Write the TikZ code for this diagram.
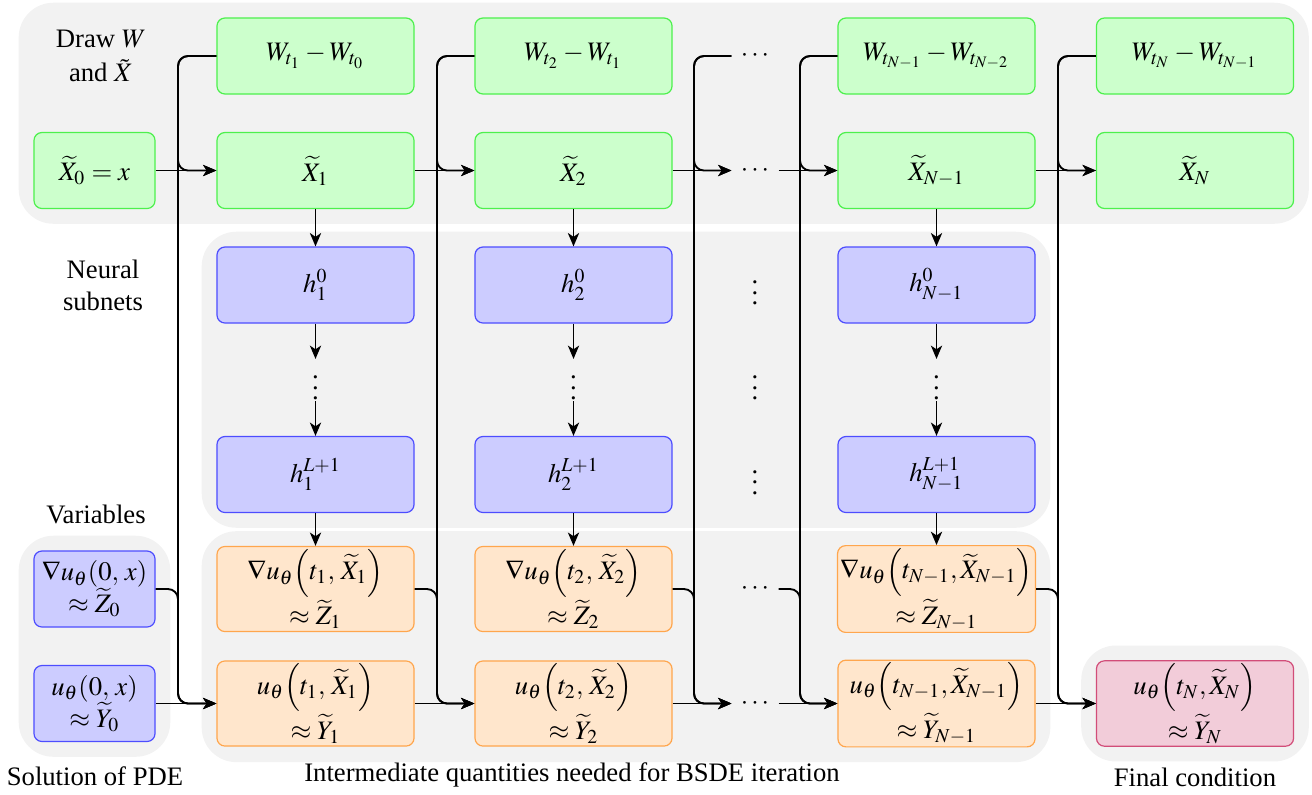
\documentclass[tikz,border=0pt]{standalone}
\usepackage{mathptmx}
\usepackage{fontspec}
\setmainfont{Liberation Serif}
\usetikzlibrary{arrows.meta,fit,backgrounds}
\definecolor{gfill}{RGB}{204,255,204}
\definecolor{gdraw}{RGB}{77,240,77}
\definecolor{bfill}{RGB}{204,204,255}
\definecolor{bdraw}{RGB}{77,77,255}
\definecolor{ofill}{RGB}{255,230,204}
\definecolor{odraw}{RGB}{255,166,77}
\definecolor{pfill}{RGB}{242,204,217}
\definecolor{pdraw}{RGB}{210,77,121}
\definecolor{bggray}{RGB}{242,242,242}
\newcommand{\lp}{\mathopen{}\left(}
\newcommand{\rp}{\right)}
\tikzset{
  box/.style={rounded corners=3pt, minimum width=73.9pt, minimum height=28.5pt,
    align=center, inner sep=1pt, line width=0.45pt},
  sbox/.style={box, minimum width=45.4pt},
  gbox/.style={box, fill=gfill, draw=gdraw},
  bbox/.style={box, fill=bfill, draw=bdraw},
  obox/.style={box, fill=ofill, draw=odraw},
  pbox/.style={box, fill=pfill, draw=pdraw},
  group/.style={fill=bggray, rounded corners=13pt, inner sep=5.5pt},
  conn/.style={line width=0.7pt, rounded corners=3.75pt},
  arr/.style={conn, -{Stealth[length=5pt,width=4.2pt,inset=1.4pt]}},
  hdots/.style={inner sep=0pt, minimum width=17.25pt, minimum height=10pt},
  vdotsnode/.style={inner sep=0pt, minimum height=15.4pt, minimum width=6pt},
  lbl/.style={align=center, inner sep=0pt}
}
\begin{document}
\begin{tikzpicture}[x=0.375pt,y=-0.375pt]
\useasboundingbox (0,0) rectangle (1312,794);

% top row: W increments
\node[gbox] (W1)  at (315.5,56) {$W_{t_1} - W_{t_0}$};
\node[gbox] (W2)  at (573.5,56) {$W_{t_2} - W_{t_1}$};
\node[hdots] (Wd) at (755,56) {$\cdots$};
\node[gbox] (Wn1) at (936.5,56) {$W_{t_{N-1}} - W_{t_{N-2}}$};
\node[gbox] (Wn)  at (1195,56) {$W_{t_N} - W_{t_{N-1}}$};

% X row
\node[gbox,sbox] (X0) at (94.5,170.5) {$\widetilde{X}_0 = x$};
\node[gbox] (X1)  at (315.5,170.5) {$\widetilde{X}_1$};
\node[gbox] (X2)  at (573.5,170.5) {$\widetilde{X}_2$};
\node[hdots] (Xd) at (755,170.5) {$\cdots$};
\node[gbox] (Xn1) at (936.5,170.5) {$\widetilde{X}_{N-1}$};
\node[gbox] (Xn)  at (1195,170.5) {$\widetilde{X}_N$};

% neural subnets
\node[bbox] (h01) at (315.5,285) {$h_1^0$};
\node[bbox] (h02) at (573.5,285) {$h_2^0$};
\node[bbox] (h0n) at (936.5,285) {$h_{N-1}^0$};
\node[vdotsnode] (v1) at (315.5,380) {$\vdots$};
\node[vdotsnode] (v2) at (573.5,380) {$\vdots$};
\node[vdotsnode] (vn) at (936.5,380) {$\vdots$};
\node[bbox] (hL1) at (315.5,474.5) {$h_1^{L+1}$};
\node[bbox] (hL2) at (573.5,474.5) {$h_2^{L+1}$};
\node[bbox] (hLn) at (936.5,474.5) {$h_{N-1}^{L+1}$};
\node[vdotsnode] (md1) at (755,285) {$\vdots$};
\node[vdotsnode] (md2) at (755,380) {$\vdots$};
\node[vdotsnode] (md3) at (755,474.5) {$\vdots$};

% Z row
\node[bbox,sbox] (Z0) at (94.5,589) {$\nabla u_\theta(0,\,x)$\\$\approx \widetilde{Z}_0$};
\node[obox] (Z1)  at (315.5,589) {$\nabla u_\theta\lp t_1,\,\widetilde{X}_1\rp$\\$\approx \widetilde{Z}_1$};
\node[obox] (Z2)  at (573.5,589) {$\nabla u_\theta\lp t_2,\,\widetilde{X}_2\rp$\\$\approx \widetilde{Z}_2$};
\node[hdots] (Zd) at (755,589) {$\cdots$};
\node[obox] (Zn1) at (936.5,589) {$\nabla u_\theta\lp t_{N-1},\widetilde{X}_{N-1}\rp$\\$\approx \widetilde{Z}_{N-1}$};

% Y row
\node[bbox,sbox] (Y0) at (94.5,703.5) {$u_\theta(0,\,x)$\\$\approx \widetilde{Y}_0$};
\node[obox] (Y1)  at (315.5,703.5) {$u_\theta\lp t_1,\,\widetilde{X}_1\rp$\\$\approx \widetilde{Y}_1$};
\node[obox] (Y2)  at (573.5,703.5) {$u_\theta\lp t_2,\,\widetilde{X}_2\rp$\\$\approx \widetilde{Y}_2$};
\node[hdots] (Yd) at (755,703.5) {$\cdots$};
\node[obox] (Yn1) at (936.5,703.5) {$u_\theta\lp t_{N-1},\widetilde{X}_{N-1}\rp$\\$\approx \widetilde{Y}_{N-1}$};
\node[pbox] (Yn)  at (1195,703.5) {$u_\theta\lp t_N,\widetilde{X}_N\rp$\\$\approx \widetilde{Y}_N$};

% labels
\node[lbl] (lDraw) at (101,56) {Draw $W$\\[1pt]and $\tilde{X}$};
\node[lbl] (lNeur) at (103,285) {Neural\\subnets};
\node[lbl] (lVar)  at (96,514) {Variables};
\node[lbl] (lSol)  at (95,776) {Solution of PDE};
\node[lbl] (lInt)  at (572,775) {Intermediate quantities needed for BSDE iteration};
\node[lbl] (lFin)  at (1195,777) {Final condition};

% background groups
\begin{scope}[on background layer]
  \node[group, fit=(X0)(W1)(Wn)(Xn)] (gTop) {};
  \node[group, fit=(h01)(hLn)] (gNeur) {};
  \node[group, fit=(Z0)(Y0)] (gVar) {};
  \node[group, fit=(Z1)(Yn1)] (gInt) {};
  \node[group, fit=(Yn)] (gFin) {};
\end{scope}

% gap coordinates
\coordinate (g1) at (178,0);
\coordinate (g2) at (437,0);
\coordinate (g3) at (694,0);
\coordinate (g4) at (800,0);
\coordinate (g5) at (1058,0);

% horizontal / gap connectors
\foreach \W/\Xs/\Zs/\Ys/\Xt/\Yt/\g in {W1/X0/Z0/Y0/X1/Y1/g1, W2/X1/Z1/Y1/X2/Y2/g2,
    Wd/X2/Z2/Y2/Xd/Yd/g3, Wn1/Xd/Zd/Yd/Xn1/Yn1/g4, Wn/Xn1/Zn1/Yn1/Xn/Yn/g5}{
  \draw[arr] (\W.west) -- (\W.west -| \g) -- (\Xt.west -| \g) -- (\Xt.west);
  \draw[arr] (\W.west) -- (\W.west -| \g) -- (\Yt.west -| \g) -- (\Yt.west);
  \draw[arr] (\Xs.east) -- (\Xt.west);
  \draw[arr] (\Zs.east) -- (\Zs.east -| \g) -- (\Yt.west -| \g) -- (\Yt.west);
  \draw[arr] (\Ys.east) -- (\Yt.west);
}

% vertical connectors
\foreach \X/\hz/\v/\hl/\Z in {X1/h01/v1/hL1/Z1, X2/h02/v2/hL2/Z2, Xn1/h0n/vn/hLn/Zn1}{
  \draw[arr] (\X) -- (\hz);
  \draw[arr] (\hz) -- (\v);
  \draw[arr] (\v) -- (\hl);
  \draw[arr] (\hl) -- (\Z);
}
\end{tikzpicture}
\end{document}
